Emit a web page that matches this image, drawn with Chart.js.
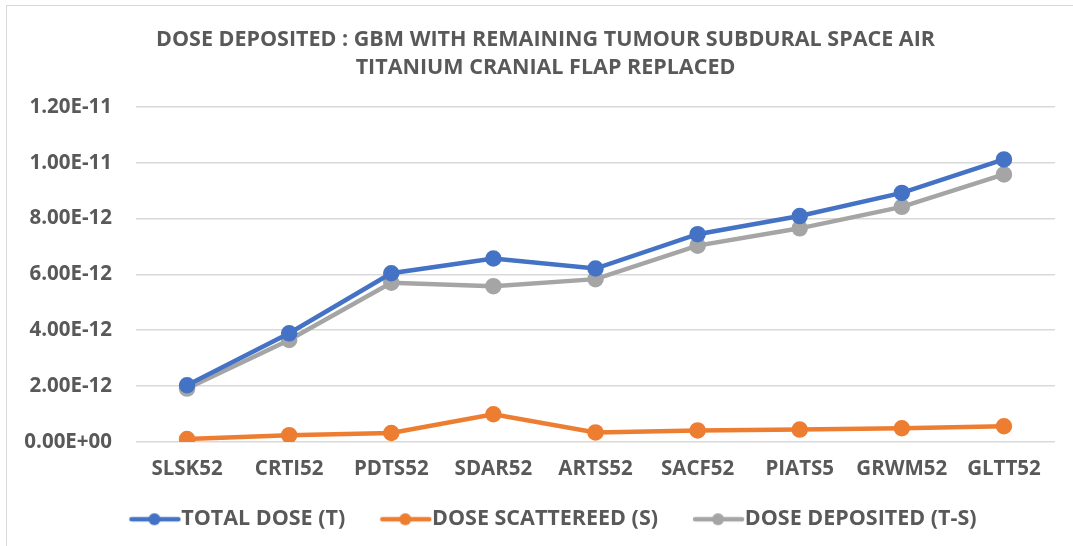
<!DOCTYPE html>
<html>
<head>
<meta charset="utf-8">
<script src="https://cdn.jsdelivr.net/npm/chart.js@4/dist/chart.umd.min.js"></script>
<style>
    html, body { margin: 0; padding: 0; background: #fff; }
    #wrap { position: relative; width: 1073px; height: 546px; overflow: hidden; }
    #frame { position: absolute; left: 6px; top: 5px; width: 1100px; height: 600px; border: 1px solid #d9d9d9; box-sizing: border-box; }
    #chartBox { position: absolute; left: 0; top: 0; width: 1073px; height: 546px; }
</style>
</head>
<body>
<div id="wrap">
    <div id="frame"></div>
    <div id="chartBox"><canvas id="doseChart"></canvas></div>
</div>
<script>
// Phantom positions along the x axis
const categories = ['SLSK52', 'CRTI52', 'PDTS52', 'SDAR52', 'ARTS52', 'SACF52', 'PIATS5', 'GRWM52', 'GLTT52'];

// Dose values as plotted
const totalDose = [2.03e-12, 3.89e-12, 6.04e-12, 6.57e-12, 6.21e-12, 7.44e-12, 8.09e-12, 8.92e-12, 1.012e-11];
const doseScattered = [0.10e-12, 0.24e-12, 0.32e-12, 0.99e-12, 0.34e-12, 0.41e-12, 0.44e-12, 0.49e-12, 0.56e-12];
const doseDeposited = [1.91e-12, 3.65e-12, 5.70e-12, 5.58e-12, 5.83e-12, 7.03e-12, 7.65e-12, 8.42e-12, 9.58e-12];

const yTicks = [0, 2e-12, 4e-12, 6e-12, 8e-12, 1e-11, 1.2e-11];

const seriesNames = ['TOTAL DOSE (T)', 'DOSE SCATTEREED (S)', 'DOSE DEPOSITED (T-S)'];
const seriesColors = ['#4472C4', '#ED7D31', '#A5A5A5'];

const TEXT = '#595959';
const FONT = "'Open Sans', 'Liberation Sans', sans-serif";
const LABEL_SIZE = 20.5;

// Excel-style scientific label: 1.20E-11, 0.00E+00
function sci(v) {
    if (Math.abs(v) < 1e-20) return '0.00E+00';
    const [m, e] = v.toExponential(2).split('e');
    const n = parseInt(e, 10);
    return m + 'E' + (n < 0 ? '-' : '+') + String(Math.abs(n)).padStart(2, '0');
}

// legend swatch: short line with a dot in the middle, drawn in the right
// part of the canvas so it sits just before the label text
function swatch(color) {
    const c = document.createElement('canvas');
    c.width = 80; c.height = 14;
    const g = c.getContext('2d');
    g.strokeStyle = color;
    g.lineWidth = 4.5;
    g.lineCap = 'round';
    g.beginPath(); g.moveTo(29, 7); g.lineTo(76, 7); g.stroke();
    g.fillStyle = color;
    g.beginPath(); g.arc(52, 7, 6, 0, Math.PI * 2); g.fill();
    return c;
}

const values = [totalDose, doseScattered, doseDeposited];

const datasets = values.map((data, i) => ({
    label: seriesNames[i],
    data: data,
    borderColor: seriesColors[i],
    backgroundColor: seriesColors[i],
    pointBackgroundColor: seriesColors[i],
    pointBorderColor: seriesColors[i],
    borderWidth: 4.5,
    pointRadius: 6,
    pointHoverRadius: 6,
    pointStyle: 'circle',
    tension: 0,
    fill: false
}));

const legendSwatches = seriesColors.map(swatch);

new Chart(document.getElementById('doseChart'), {
    type: 'line',
    data: { labels: categories, datasets: datasets },
    options: {
        responsive: true,
        maintainAspectRatio: false,
        animation: false,
        layout: { padding: { left: 18, right: 0, top: 0, bottom: 6 } },
        plugins: {
            title: {
                display: true,
                text: ['DOSE DEPOSITED : GBM WITH REMAINING TUMOUR SUBDURAL SPACE AIR', 'TITANIUM CRANIAL FLAP REPLACED'],
                color: TEXT,
                font: { family: FONT, size: 21.5, weight: 'bold', lineHeight: 1.3 },
                padding: { top: 26, bottom: 25 }
            },
            legend: {
                position: 'bottom',
                labels: {
                    color: TEXT,
                    font: { family: FONT, size: 21.5, weight: 'bold' },
                    usePointStyle: true,
                    pointStyleWidth: 56,
                    padding: 20,
                    generateLabels(chart) {
                        return chart.data.datasets.map((ds, i) => ({
                            text: ds.label,
                            fontColor: TEXT,
                            pointStyle: legendSwatches[i],
                            fillStyle: ds.borderColor,
                            strokeStyle: ds.borderColor,
                            lineWidth: 0,
                            hidden: false,
                            datasetIndex: i
                        }));
                    }
                }
            },
            tooltip: { enabled: false }
        },
        scales: {
            x: {
                offset: true,
                grid: { display: false },
                border: { display: false },
                ticks: {
                    color: TEXT,
                    font: { family: FONT, size: LABEL_SIZE, weight: 'bold' },
                    padding: 7,
                    maxRotation: 0,
                    autoSkip: false
                }
            },
            y: {
                min: 0,
                max: 1.2e-11,
                afterBuildTicks(axis) { axis.ticks = yTicks.map(v => ({ value: v })); },
                afterFit(axis) { axis.width = 118; },
                grid: { color: '#d9d9d9', lineWidth: 1.5, drawTicks: false },
                border: { display: false },
                ticks: {
                    color: TEXT,
                    font: { family: FONT, size: LABEL_SIZE, weight: 'bold' },
                    padding: 24,
                    callback: v => sci(v)
                }
            },
            // empty strip on the right edge of the plot
            yRight: {
                position: 'right',
                grid: { display: false },
                border: { display: false },
                ticks: { display: false },
                afterFit(axis) { axis.width = 18; }
            }
        }
    }
});
</script>
</body>
</html>
